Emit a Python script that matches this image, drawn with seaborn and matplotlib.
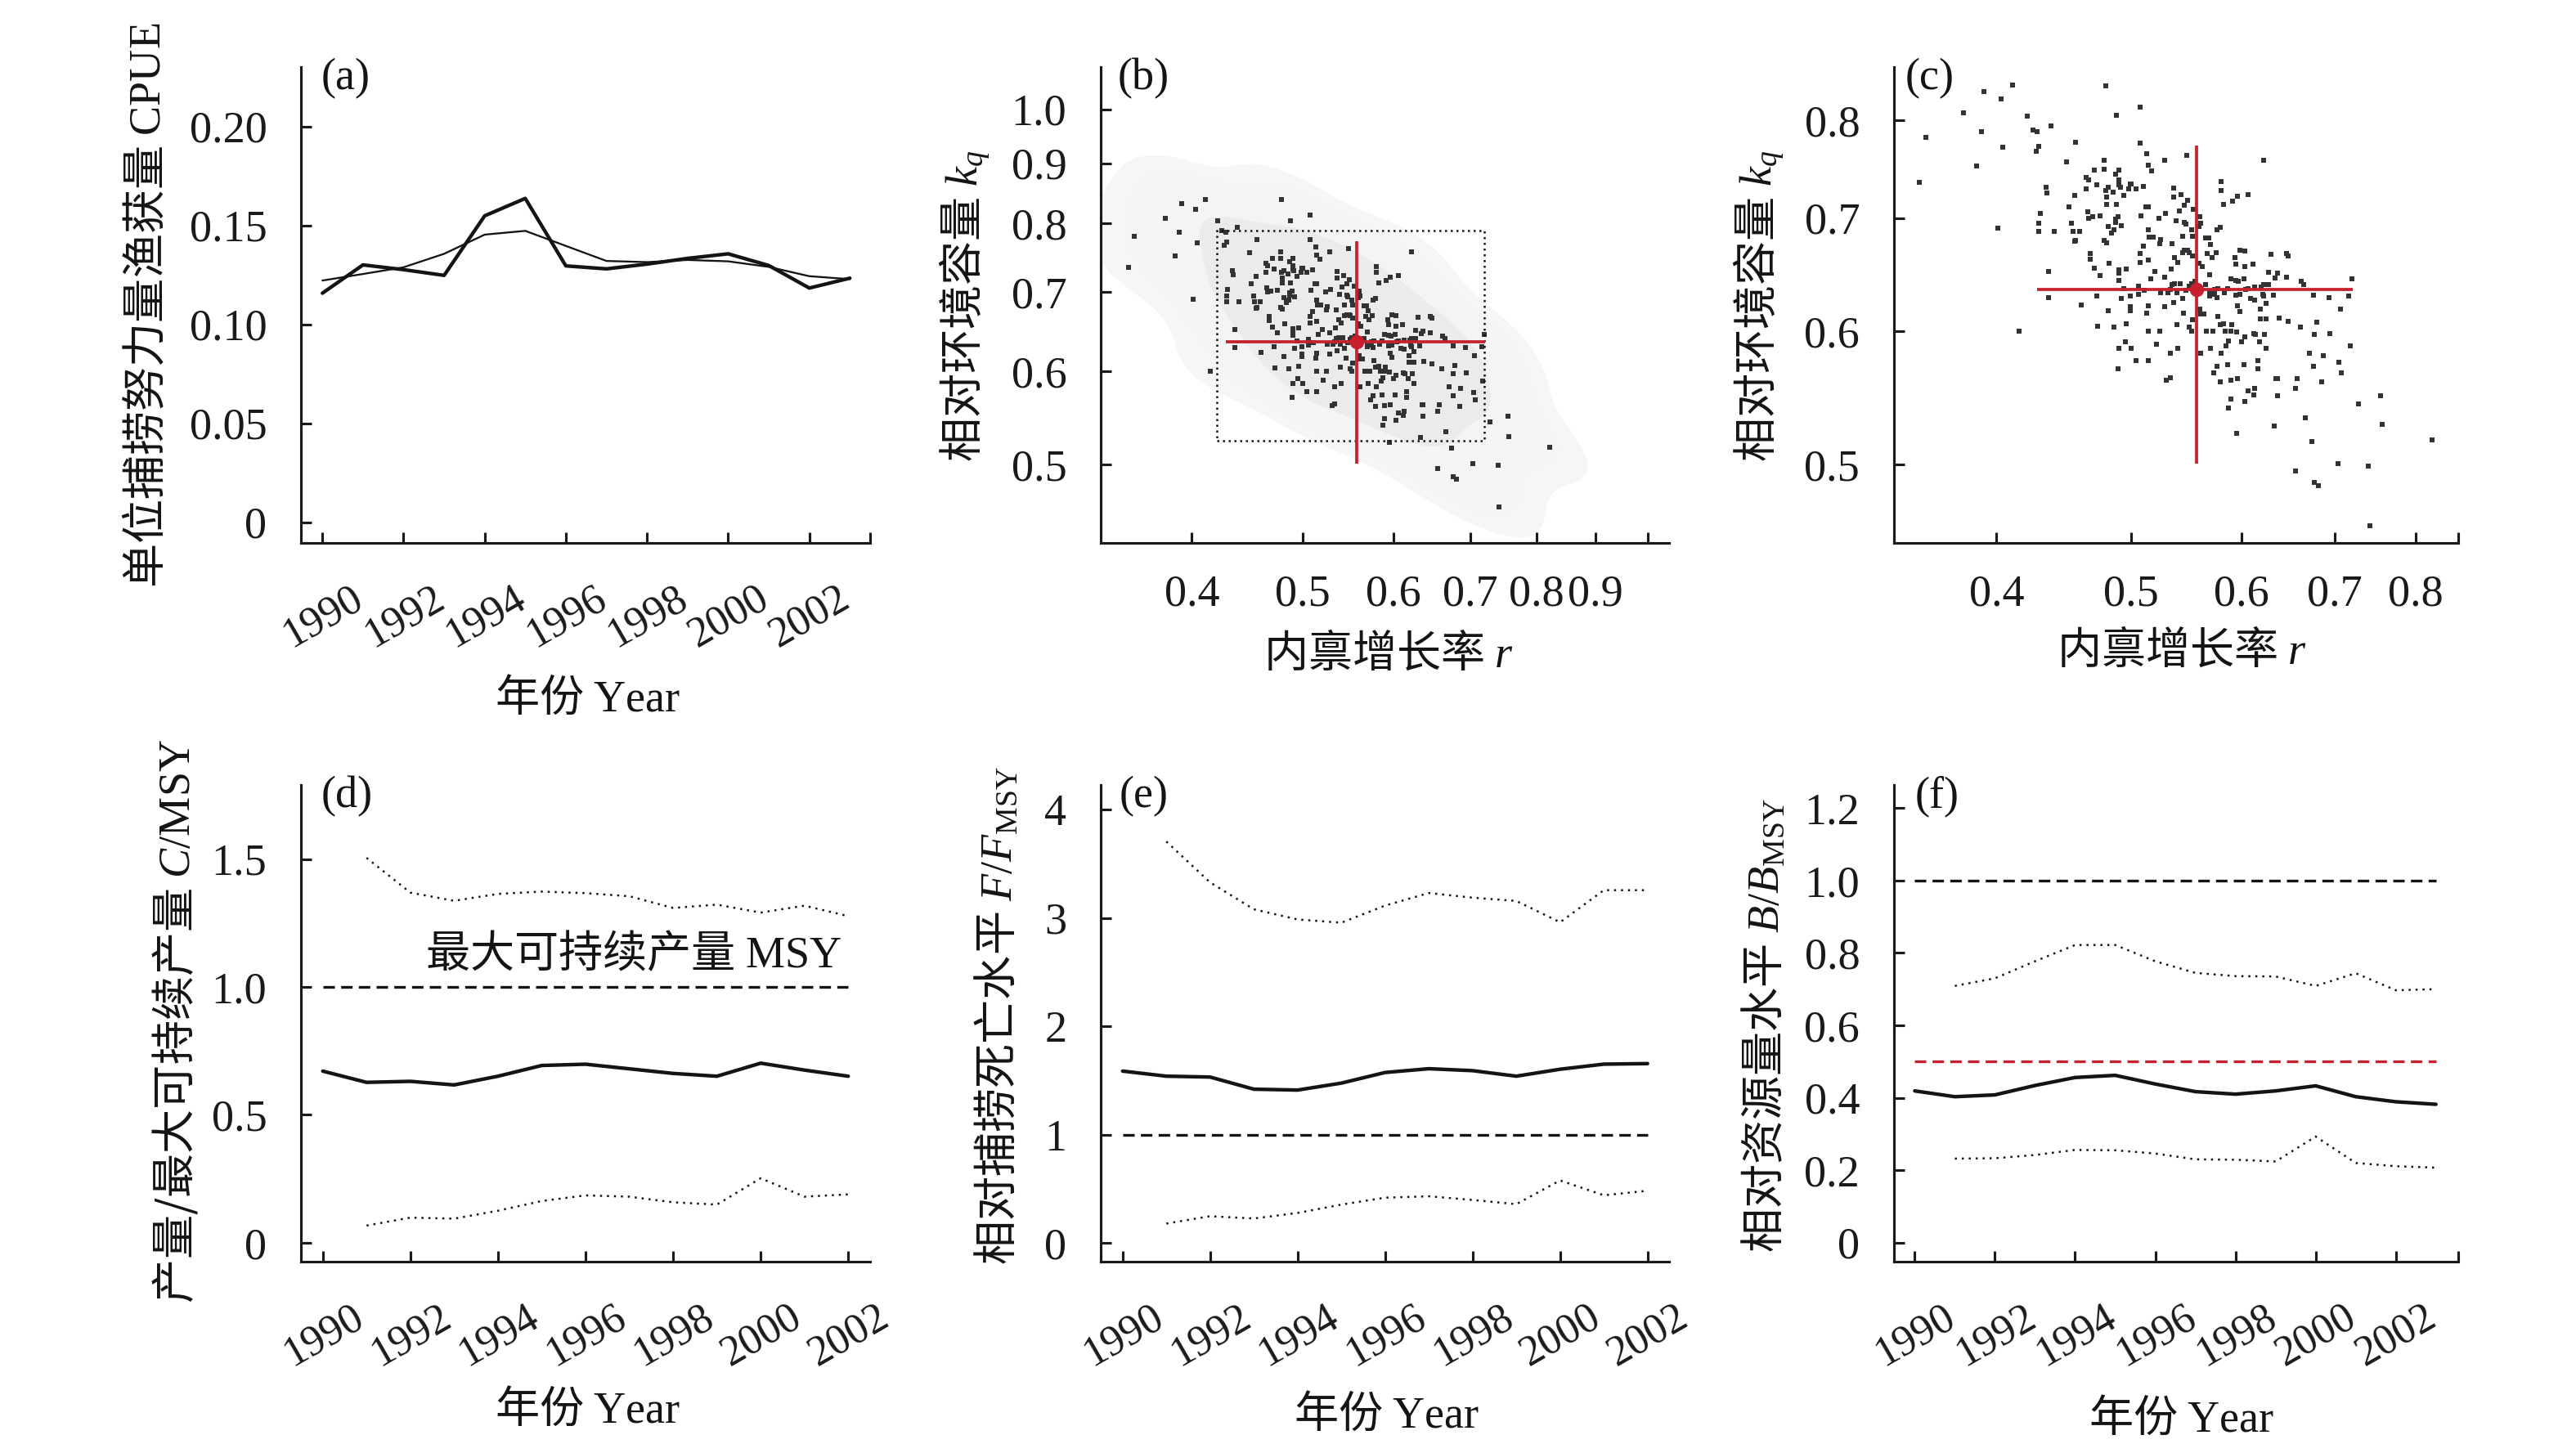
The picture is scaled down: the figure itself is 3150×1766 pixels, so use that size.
import matplotlib
matplotlib.use("Agg")
import matplotlib.pyplot as plt
import matplotlib.transforms as mtransforms
from matplotlib.colors import LinearSegmentedColormap
from matplotlib.patches import Rectangle
from matplotlib.ticker import NullLocator, FixedLocator, NullFormatter
import seaborn as sns

# ---------------- data ----------------
years_a = list(range(1990, 2004))
cpue_obs = [0.1157, 0.130, 0.1276, 0.1247, 0.1548, 0.1636, 0.1295,
            0.128, 0.1304, 0.1333, 0.1356, 0.1297, 0.1183, 0.1233]
cpue_fit = [0.1221, 0.1254, 0.1288, 0.1356, 0.1453, 0.1472, 0.1396,
            0.132, 0.1314, 0.1325, 0.1318, 0.129, 0.1243, 0.1228]

# posterior samples of r and k_q (panels b, c)
r_samples = [
    0.411, 0.479, 0.392, 0.403, 0.507, 0.379, 0.488, 0.421, 0.438, 0.425,
    0.428, 0.390, 0.356, 0.456, 0.507, 0.429, 0.404, 0.427, 0.513, 0.478,
    0.528, 0.449, 0.514, 0.387, 0.478, 0.470, 0.490, 0.517, 0.487, 0.464,
    0.466, 0.490, 0.352, 0.499, 0.500, 0.472, 0.490, 0.491, 0.510, 0.434,
    0.481, 0.536, 0.464, 0.498, 0.504, 0.479, 0.485, 0.435, 0.455, 0.494,
    0.480, 0.536, 0.480, 0.488, 0.512, 0.514, 0.451, 0.430, 0.465, 0.466,
    0.469, 0.475, 0.529, 0.508, 0.523, 0.489, 0.487, 0.538, 0.429, 0.453,
    0.487, 0.492, 0.481, 0.486, 0.484, 0.401, 0.429, 0.440, 0.454, 0.459,
    0.514, 0.515, 0.518, 0.525, 0.456, 0.455, 0.478, 0.480, 0.524, 0.535,
    0.510, 0.467, 0.507, 0.467, 0.537, 0.507, 0.514, 0.482, 0.470, 0.520,
    0.534, 0.490, 0.496, 0.490, 0.475, 0.436, 0.528, 0.516, 0.490, 0.535,
    0.537, 0.506, 0.494, 0.511, 0.533, 0.531, 0.525, 0.436, 0.472, 0.499,
    0.506, 0.492, 0.536, 0.460, 0.499, 0.514, 0.528, 0.481, 0.499, 0.513,
    0.473, 0.486, 0.496, 0.539, 0.514, 0.524, 0.415, 0.495, 0.490, 0.500,
    0.521, 0.533, 0.504, 0.514, 0.489, 0.533, 0.530,
    0.548, 0.622, 0.543, 0.549, 0.546, 0.554, 0.541, 0.580, 0.580, 0.582,
    0.591, 0.596, 0.606, 0.546, 0.547, 0.560, 0.561, 0.559, 0.552, 0.576,
    0.579, 0.544, 0.553, 0.565, 0.568, 0.570, 0.544, 0.546, 0.549, 0.550,
    0.553, 0.567, 0.575, 0.571, 0.598, 0.603, 0.593, 0.630, 0.646, 0.648,
    0.540, 0.559, 0.562, 0.594, 0.603, 0.611, 0.569, 0.627, 0.637, 0.634,
    0.646, 0.589, 0.594, 0.597, 0.602, 0.662, 0.665, 0.720, 0.542, 0.552,
    0.550, 0.555, 0.565, 0.574, 0.577, 0.586, 0.606, 0.613, 0.620, 0.622,
    0.627, 0.547, 0.539, 0.544, 0.569, 0.569, 0.574, 0.576, 0.583, 0.594,
    0.598, 0.604, 0.609, 0.613, 0.621, 0.622, 0.632, 0.625, 0.676, 0.693,
    0.716, 0.706, 0.596, 0.598, 0.619, 0.560, 0.561, 0.564, 0.545, 0.577, 0.638,
    0.553, 0.550, 0.552,
    0.540, 0.566, 0.572, 0.579, 0.582, 0.590, 0.584, 0.589, 0.595, 0.603,
    0.600, 0.587, 0.585, 0.570, 0.561, 0.580, 0.612, 0.614, 0.623, 0.618,
    0.625, 0.619, 0.625, 0.648, 0.661, 0.679, 0.677, 0.694, 0.718, 0.671,
    0.687, 0.705, 0.676, 0.707, 0.685, 0.576, 0.586, 0.602, 0.616, 0.616,
    0.573, 0.579, 0.589, 0.596, 0.635, 0.637, 0.658, 0.656, 0.606, 0.613,
    0.612, 0.637, 0.589, 0.603, 0.587, 0.667, 0.633, 0.595, 0.674, 0.728,
    0.755, 0.757, 0.822, 0.704, 0.740, 0.656, 0.677, 0.681, 0.742,
]
k_samples = [
    0.839, 0.838, 0.832, 0.823, 0.814, 0.808, 0.805, 0.804, 0.794, 0.789,
    0.787, 0.787, 0.781, 0.776, 0.775, 0.772, 0.771, 0.767, 0.764, 0.757,
    0.757, 0.756, 0.752, 0.751, 0.748, 0.747, 0.747, 0.746, 0.743, 0.740,
    0.737, 0.737, 0.735, 0.733, 0.733, 0.732, 0.732, 0.730, 0.731, 0.730,
    0.730, 0.729, 0.728, 0.728, 0.728, 0.727, 0.725, 0.724, 0.722, 0.722,
    0.720, 0.720, 0.713, 0.713, 0.711, 0.711, 0.711, 0.704, 0.706, 0.700,
    0.701, 0.702, 0.704, 0.702, 0.700, 0.701, 0.699, 0.697, 0.695, 0.695,
    0.696, 0.693, 0.692, 0.689, 0.686, 0.690, 0.687, 0.687, 0.687, 0.687,
    0.689, 0.682, 0.682, 0.680, 0.679, 0.678, 0.679, 0.677, 0.676, 0.676,
    0.674, 0.667, 0.667, 0.662, 0.663, 0.659, 0.661, 0.658, 0.654, 0.651,
    0.653, 0.652, 0.653, 0.649, 0.647, 0.651, 0.646, 0.644, 0.643, 0.639,
    0.640, 0.638, 0.636, 0.634, 0.635, 0.632, 0.632, 0.628, 0.629, 0.629,
    0.631, 0.627, 0.624, 0.622, 0.620, 0.621, 0.620, 0.617, 0.617, 0.615,
    0.604, 0.603, 0.606, 0.605, 0.600, 0.600, 0.600, 0.591, 0.586, 0.586,
    0.589, 0.582, 0.576, 0.576, 0.570, 0.563, 0.561,
    0.762, 0.757, 0.723, 0.717, 0.712, 0.708, 0.707, 0.736, 0.727, 0.713,
    0.716, 0.721, 0.723, 0.696, 0.694, 0.701, 0.695, 0.692, 0.689, 0.689,
    0.691, 0.683, 0.683, 0.681, 0.681, 0.675, 0.668, 0.670, 0.670, 0.668,
    0.665, 0.667, 0.668, 0.663, 0.670, 0.669, 0.663, 0.666, 0.667, 0.665,
    0.659, 0.658, 0.655, 0.657, 0.655, 0.657, 0.648, 0.650, 0.649, 0.645,
    0.646, 0.644, 0.643, 0.642, 0.644, 0.642, 0.639, 0.644, 0.640, 0.640,
    0.638, 0.642, 0.639, 0.635, 0.636, 0.636, 0.636, 0.637, 0.637, 0.639,
    0.639, 0.634, 0.632, 0.627, 0.632, 0.629, 0.631, 0.628, 0.632, 0.630,
    0.631, 0.635, 0.627, 0.626, 0.631, 0.629, 0.630, 0.623, 0.630, 0.628,
    0.629, 0.618, 0.621, 0.616, 0.618, 0.618, 0.614, 0.614, 0.615, 0.612, 0.611,
    0.609, 0.603, 0.600,
    0.586, 0.600, 0.600, 0.605, 0.606, 0.605, 0.600, 0.600, 0.599, 0.595,
    0.591, 0.592, 0.588, 0.586, 0.582, 0.582, 0.598, 0.597, 0.597, 0.591,
    0.586, 0.610, 0.610, 0.608, 0.603, 0.607, 0.597, 0.598, 0.588, 0.582,
    0.580, 0.575, 0.572, 0.567, 0.560, 0.572, 0.573, 0.573, 0.576, 0.570,
    0.567, 0.560, 0.561, 0.562, 0.562, 0.562, 0.562, 0.555, 0.553, 0.555,
    0.550, 0.549, 0.547, 0.545, 0.540, 0.533, 0.527, 0.522, 0.516, 0.543,
    0.549, 0.528, 0.517, 0.501, 0.499, 0.496, 0.488, 0.486, 0.460,
]
r_median, k_median = 0.557, 0.635
r_interval = (0.428, 0.721)
k_interval = (0.501, 0.773)
prior_r = (0.4205, 0.720)
prior_k = (0.524, 0.7886)

years_d = list(range(1990, 2003))
c_msy_mean = [0.671, 0.627, 0.631, 0.617, 0.651, 0.693, 0.698, 0.680, 0.662, 0.651, 0.702, 0.675, 0.651]
c_msy_upper = [1.505, 1.369, 1.337, 1.364, 1.373, 1.367, 1.355, 1.309, 1.322, 1.291, 1.318, 1.277]
c_msy_lower = [0.067, 0.098, 0.094, 0.125, 0.163, 0.185, 0.180, 0.158, 0.149, 0.252, 0.180, 0.189]

f_fmsy_mean = [1.587, 1.540, 1.532, 1.420, 1.412, 1.476, 1.574, 1.609, 1.591, 1.540, 1.604, 1.651, 1.656]
f_fmsy_upper = [3.705, 3.328, 3.080, 2.986, 2.956, 3.114, 3.230, 3.187, 3.157, 2.960, 3.256, 3.256]
f_fmsy_lower = [0.180, 0.248, 0.227, 0.278, 0.355, 0.419, 0.432, 0.398, 0.359, 0.578, 0.441, 0.483]

years_f = list(range(1990, 2004))
b_bmsy_mean = [0.419, 0.403, 0.408, 0.434, 0.456, 0.462, 0.438, 0.417, 0.410, 0.419, 0.433, 0.403, 0.389, 0.382]
b_bmsy_upper = [0.709, 0.730, 0.777, 0.822, 0.822, 0.777, 0.745, 0.736, 0.735, 0.709, 0.744, 0.697, 0.700]
b_bmsy_lower = [0.232, 0.233, 0.242, 0.256, 0.255, 0.246, 0.230, 0.229, 0.224, 0.293, 0.220, 0.211, 0.207]

msy_ref = 1.0
bmsy_limit = 0.5

# ---------------- style ----------------
sns.set_theme(style="ticks")
plt.rcParams.update({
    "font.family": ["Liberation Serif", "Noto Sans CJK SC"],
    "mathtext.fontset": "custom",
    "mathtext.rm": "Liberation Serif",
    "mathtext.it": "Liberation Serif:italic",
    "mathtext.bf": "Liberation Serif:bold",
    "axes.linewidth": 0.75,
    "axes.edgecolor": "#1a1a1a",
    "xtick.direction": "in",
    "ytick.direction": "in",
    "xtick.major.size": 3.1,
    "ytick.major.size": 3.1,
    "xtick.minor.size": 3.1,
    "xtick.major.width": 0.75,
    "ytick.major.width": 0.75,
    "xtick.minor.width": 0.75,
    "xtick.labelsize": 13,
    "ytick.labelsize": 13,
    "xtick.color": "#1a1a1a",
    "ytick.color": "#1a1a1a",
    "xtick.major.pad": 9.0,
    "ytick.major.pad": 10.0,
})

RED = "#c8202f"
INK = "#141414"
cjk = dict(family="Noto Sans CJK SC", fontsize=13)
dotted = (0, (1, 2.4))
dashed = (0, (4.2, 2.3))

fig = plt.figure(figsize=(10.5, 5.88667), dpi=300)
cols = [(0.1168, 0.2210), (0.4273, 0.2206), (0.7352, 0.2190)]
rows = [(0.6240, 0.3296), (0.1263, 0.3301)]
axes = {}
for key, (ci, ri) in zip("abcdef", [(0, 0), (1, 0), (2, 0), (0, 1), (1, 1), (2, 1)]):
    axes[key] = fig.add_axes([cols[ci][0], rows[ri][0], cols[ci][1], rows[ri][1]])


def finish(ax, letter, lx, ylabel, ylab_xy, xlabel, xlab_xy):
    sns.despine(ax=ax)
    ax.text(lx, 1.02, letter, transform=ax.transAxes, ha="left", va="top",
            fontsize=13, family="Liberation Serif", color=INK)
    ax.set_ylabel(ylabel, va="center", color=INK, **cjk)
    ax.yaxis.set_label_coords(*ylab_xy)
    ax.set_xlabel(xlabel, va="center", color=INK, **cjk)
    ax.xaxis.set_label_coords(*xlab_xy)


def year_axis(ax, ticks):
    ax.set_xticks(ticks)
    ax.set_xticklabels([str(t) for t in ticks], rotation=30, ha="right",
                       va="center", rotation_mode="anchor", fontsize=12.5)
    ax.tick_params(axis="x", pad=15.5)


def shift_year_labels(ax):
    shift = mtransforms.ScaledTranslation(46 / 300, 0, fig.dpi_scale_trans)
    for lab in ax.get_xticklabels():
        lab.set_transform(lab.get_transform() + shift)


def crosshair(ax):
    ax.hlines(k_median, *r_interval, colors=RED, lw=0.9, zorder=4)
    ax.vlines(r_median, *k_interval, colors=RED, lw=0.9, zorder=4)
    ax.plot([r_median], [k_median], "o", ms=3.2, color=RED, zorder=5)


# ---- (a) CPUE ----
ax = axes["a"]
sns.lineplot(x=years_a, y=cpue_obs, ax=ax, color=INK, lw=1.05)
sns.lineplot(x=years_a, y=cpue_fit, ax=ax, color=INK, lw=0.55)
ax.set_xlim(1989.47, 2003.5)
ax.set_ylim(-0.0105, 0.230)
ax.set_yticks([0, 0.05, 0.10, 0.15, 0.20])
ax.set_yticklabels(["0", "0.05", "0.10", "0.15", "0.20"])
year_axis(ax, years_a[::2])
ax.xaxis.set_minor_locator(FixedLocator([2003.5]))
finish(ax, "(a)", 0.035, "单位捕捞努力量渔获量 $\\mathrm{CPUE}$", (-0.269, 0.50),
       "年份 $\\mathrm{Year}$", (0.504, -0.328))

# ---- (b) prior/posterior cloud ----
ax = axes["b"]
cloud_cmap = LinearSegmentedColormap.from_list("cloud", ["#f6f6f6", "#ececec", "#e4e4e4"])
sns.kdeplot(x=r_samples, y=k_samples, ax=ax, fill=True, log_scale=True,
            bw_adjust=1.35, levels=[0.01, 0.03, 0.08, 0.18, 1.0],
            cmap=cloud_cmap, zorder=0)
ax.add_patch(Rectangle((prior_r[0], prior_k[0]), prior_r[1] - prior_r[0],
                       prior_k[1] - prior_k[0], fill=False, ec=INK, lw=0.6,
                       ls=(0, (1, 1.8)), zorder=3))
sns.scatterplot(x=r_samples, y=k_samples, ax=ax, marker="s", s=1.6,
                color="#333333", linewidth=0, zorder=2)
crosshair(ax)
ax.set_xlim(0.333, 1.044)
ax.set_ylim(0.429, 1.086)
ax.set_xticks([0.4, 0.5, 0.6, 0.7, 0.8, 0.9, 1.0])
ax.set_xticklabels(["0.4", "0.5", "0.6", "0.7", "0.8", "0.9", ""])
ax.set_yticks([0.5, 0.6, 0.7, 0.8, 0.9, 1.0])
ax.set_yticklabels(["0.5", "0.6", "0.7", "0.8", "0.9", "1.0"])
ax.xaxis.set_minor_locator(NullLocator())
ax.yaxis.set_minor_locator(NullLocator())
finish(ax, "(b)", 0.03, "相对环境容量 $k_q$", (-0.239, 0.498),
       "内禀增长率 $r$", (0.506, -0.234))

# ---- (c) posterior samples ----
ax = axes["c"]
ax.set_xscale("log")
ax.set_yscale("log")
sns.scatterplot(x=r_samples, y=k_samples, ax=ax, marker="s", s=1.6,
                color="#333333", linewidth=0, zorder=2)
crosshair(ax)
ax.set_xlim(0.3376, 0.858)
ax.set_ylim(0.4494, 0.860)
ax.set_xticks([0.4, 0.5, 0.6, 0.7, 0.8])
ax.set_xticklabels(["0.4", "0.5", "0.6", "0.7", "0.8"])
ax.set_yticks([0.5, 0.6, 0.7, 0.8])
ax.set_yticklabels(["0.5", "0.6", "0.7", "0.8"])
ax.xaxis.set_minor_locator(FixedLocator([0.858]))
ax.xaxis.set_minor_formatter(NullFormatter())
ax.yaxis.set_minor_locator(NullLocator())
finish(ax, "(c)", 0.02, "相对环境容量 $k_q$", (-0.239, 0.498),
       "内禀增长率 $r$", (0.510, -0.227))

# ---- (d) C/MSY ----
ax = axes["d"]
sns.lineplot(x=years_d, y=c_msy_mean, ax=ax, color=INK, lw=1.05)
sns.lineplot(x=years_d[1:], y=c_msy_upper, ax=ax, color=INK, lw=0.6, ls=dotted)
sns.lineplot(x=years_d[1:], y=c_msy_lower, ax=ax, color=INK, lw=0.6, ls=dotted)
ax.hlines(msy_ref, years_d[0], years_d[-1], colors=INK, lw=0.8, linestyles=[dashed])
ax.text(2001.85, 1.127, "最大可持续产量 $\\mathrm{MSY}$", ha="right", va="center",
        color=INK, **cjk)
ax.set_xlim(1989.5, 2002.5)
ax.set_ylim(-0.074, 1.79)
ax.set_yticks([0, 0.5, 1.0, 1.5])
ax.set_yticklabels(["0", "0.5", "1.0", "1.5"])
year_axis(ax, years_d[::2])
finish(ax, "(d)", 0.035, "产量/最大可持续产量 $C\\mathrm{/MSY}$", (-0.221, 0.504),
       "年份 $\\mathrm{Year}$", (0.504, -0.312))

# ---- (e) F/FMSY ----
ax = axes["e"]
sns.lineplot(x=years_d, y=f_fmsy_mean, ax=ax, color=INK, lw=1.05)
sns.lineplot(x=years_d[1:], y=f_fmsy_upper, ax=ax, color=INK, lw=0.6, ls=dotted)
sns.lineplot(x=years_d[1:], y=f_fmsy_lower, ax=ax, color=INK, lw=0.6, ls=dotted)
ax.hlines(msy_ref, years_d[0], years_d[-1], colors=INK, lw=0.8, linestyles=[dashed])
ax.set_xlim(1989.5, 2002.49)
ax.set_ylim(-0.171, 4.227)
ax.set_yticks([0, 1, 2, 3, 4])
ax.set_yticklabels(["0", "1", "2", "3", "4"])
year_axis(ax, years_d[::2])
finish(ax, "(e)", 0.032, "相对捕捞死亡水平 $F/F_{\\mathrm{MSY}}$", (-0.181, 0.516),
       "年份 $\\mathrm{Year}$", (0.503, -0.322))

# ---- (f) B/BMSY ----
ax = axes["f"]
sns.lineplot(x=years_f, y=b_bmsy_mean, ax=ax, color=INK, lw=1.05)
sns.lineplot(x=years_f[1:], y=b_bmsy_upper, ax=ax, color=INK, lw=0.6, ls=dotted)
sns.lineplot(x=years_f[1:], y=b_bmsy_lower, ax=ax, color=INK, lw=0.6, ls=dotted)
ax.hlines(msy_ref, years_f[0], years_f[-1], colors=INK, lw=0.8, linestyles=[dashed])
ax.hlines(bmsy_limit, years_f[0], years_f[-1], colors=RED, lw=0.8, linestyles=[dashed])
ax.set_xlim(1989.48, 2003.55)
ax.set_ylim(-0.0525, 1.264)
ax.set_yticks([0, 0.2, 0.4, 0.6, 0.8, 1.0, 1.2])
ax.set_yticklabels(["0", "0.2", "0.4", "0.6", "0.8", "1.0", "1.2"])
year_axis(ax, years_f[::2])
ax.xaxis.set_minor_locator(FixedLocator([2003.55]))
finish(ax, "(f)", 0.038, "相对资源量水平 $B/B_{\\mathrm{MSY}}$", (-0.229, 0.496),
       "年份 $\\mathrm{Year}$", (0.510, -0.331))

for key in "adef":
    shift_year_labels(axes[key])

fig.savefig("out.png", dpi=300)
